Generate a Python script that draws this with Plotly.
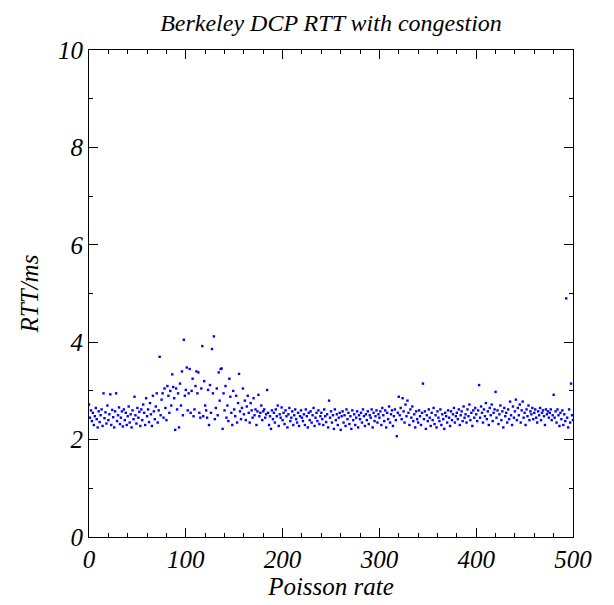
import plotly.graph_objects as go

# RTT samples (ms), one per Poisson rate step 0..500
RTT_MS = [
    2.72, 2.45, 2.60, 2.38, 2.55, 2.30, 2.48, 2.65, 2.42, 2.25, 2.58, 2.36, 2.50, 2.62, 2.28, 2.95, 2.44, 2.56, 2.33, 2.70,
    2.40, 2.52, 2.93, 2.30, 2.61, 2.46, 2.25, 2.58, 2.95, 2.38, 2.50, 2.66, 2.32, 2.45, 2.58, 2.27, 2.62, 2.40, 2.55, 2.30,
    2.48, 2.68, 2.35, 2.52, 2.25, 2.60, 2.42, 2.88, 2.50, 2.33, 2.65, 2.45, 2.57, 2.28, 2.62, 2.40, 2.72, 2.55, 2.30, 2.85,
    2.48, 2.62, 2.36, 2.75, 2.52, 2.28, 2.90, 2.58, 2.42, 2.68, 2.95, 2.35, 2.60, 3.70, 2.50, 2.82, 2.95, 2.45, 3.05, 2.65,
    2.40, 3.10, 2.90, 2.55, 3.00, 2.70, 3.34, 3.08, 2.85, 2.20, 3.05, 2.62, 2.95, 2.25, 3.15, 2.70, 3.40, 2.50, 4.05, 2.90,
    3.02, 3.48, 2.60, 2.95, 3.45, 2.55, 3.00, 3.25, 2.48, 2.62, 3.10, 3.40, 2.95, 3.38, 2.55, 2.45, 3.05, 3.92, 2.48, 3.20,
    2.70, 2.60, 2.45, 3.02, 2.30, 3.12, 2.55, 3.86, 2.95, 4.12, 2.42, 2.65, 3.05, 2.50, 3.38, 2.80, 3.45, 3.46, 2.22, 2.95,
    2.60, 3.10, 2.45, 2.70, 2.38, 3.25, 2.88, 2.55, 2.30, 3.00, 2.62, 2.48, 2.90, 2.35, 2.75, 3.35, 2.58, 2.42, 2.65, 3.05,
    2.52, 2.80, 2.40, 2.68, 2.90, 2.55, 2.35, 2.75, 2.60, 2.45, 2.85, 2.50, 2.62, 2.30, 2.58, 2.92, 2.48, 2.55, 2.70, 2.40,
    2.58, 2.62, 2.45, 2.52, 3.02, 2.55, 2.30, 2.48, 2.22, 2.60, 2.42, 2.55, 2.35, 2.62, 2.48, 2.70, 2.28, 2.52, 2.45, 2.66,
    2.40, 2.55, 2.32, 2.60, 2.48, 2.25, 2.52, 2.65, 2.38, 2.45, 2.58, 2.30, 2.50, 2.62, 2.42, 2.35, 2.55, 2.28, 2.48, 2.60,
    2.45, 2.38, 2.52, 2.30, 2.62, 2.48, 2.25, 2.55, 2.40, 2.58, 2.35, 2.50, 2.65, 2.28, 2.45, 2.55, 2.38, 2.60, 2.32, 2.48,
    2.55, 2.42, 2.30, 2.62, 2.48, 2.36, 2.52, 2.25, 2.80, 2.45, 2.58, 2.35, 2.50, 2.22, 2.62, 2.40, 2.52, 2.30, 2.45, 2.55,
    2.20, 2.48, 2.58, 2.35, 2.50, 2.28, 2.62, 2.42, 2.55, 2.32, 2.48, 2.22, 2.60, 2.40, 2.52, 2.30, 2.45, 2.58, 2.25, 2.50,
    2.42, 2.55, 2.35, 2.62, 2.48, 2.28, 2.52, 2.40, 2.58, 2.32, 2.50, 2.45, 2.62, 2.25, 2.55, 2.38, 2.48, 2.60, 2.35, 2.52,
    2.45, 2.58, 2.30, 2.65, 2.50, 2.38, 2.60, 2.25, 2.55, 2.42, 2.68, 2.35, 2.52, 2.60, 2.28, 2.48, 2.62, 2.40, 2.07, 2.55,
    2.88, 2.50, 2.65, 2.42, 2.85, 2.58, 2.35, 2.72, 2.48, 2.80, 2.55, 2.30, 2.62, 2.45, 2.68, 2.38, 2.52, 2.25, 2.58, 2.42,
    2.35, 2.60, 2.48, 2.30, 2.55, 3.15, 2.42, 2.58, 2.22, 2.50, 2.38, 2.62, 2.45, 2.28, 2.55, 2.40, 2.65, 2.32, 2.50, 2.25,
    2.58, 2.45, 2.38, 2.62, 2.30, 2.52, 2.42, 2.22, 2.55, 2.48, 2.35, 2.60, 2.45, 2.28, 2.58, 2.40, 2.52, 2.65, 2.35, 2.48,
    2.55, 2.42, 2.62, 2.30, 2.50, 2.58, 2.38, 2.68, 2.45, 2.52, 2.35, 2.62, 2.48, 2.72, 2.40, 2.55, 2.28, 2.60, 2.45, 2.65,
    2.52, 2.38, 2.60, 3.12, 2.45, 2.68, 2.55, 2.35, 2.62, 2.48, 2.75, 2.42, 2.58, 2.30, 2.65, 2.50, 2.72, 2.38, 2.55, 2.62,
    2.98, 2.45, 2.60, 2.32, 2.52, 2.70, 2.40, 2.58, 2.25, 2.65, 2.48, 2.55, 2.35, 2.62, 2.42, 2.78, 2.50, 2.30, 2.68, 2.45,
    2.58, 2.82, 2.40, 2.65, 2.50, 2.72, 2.35, 2.60, 2.78, 2.45, 2.55, 2.30, 2.62, 2.48, 2.70, 2.40, 2.58, 2.52, 2.65, 2.42,
    2.55, 2.62, 2.45, 2.35, 2.58, 2.50, 2.65, 2.40, 2.55, 2.60, 2.48, 2.30, 2.62, 2.52, 2.58, 2.45, 2.55, 2.62, 2.40, 2.50,
    2.92, 2.45, 2.58, 2.35, 2.62, 2.50, 2.28, 2.55, 2.42, 2.60, 2.30, 2.52, 2.38, 4.90, 2.45, 2.25, 2.62, 2.35, 3.15, 2.50,
    2.40,
]
POISSON_RATE = list(range(len(RTT_MS)))

X_TICKS = [0, 100, 200, 300, 400, 500]
Y_TICKS = [0, 2, 4, 6, 8, 10]

FONTE = "Liberation Serif, Times New Roman, serif"
COR_EIXO = "black"

# a pagina desloca a figura 8 px (margem do body), por isso 606x597
LARGURA = 606
ALTURA = 597

fig = go.Figure()
fig.add_trace(
    go.Scatter(
        x=POISSON_RATE,
        y=RTT_MS,
        mode="markers",
        marker=dict(color="#0000ff", size=2.4, symbol="square", line=dict(width=0)),
        showlegend=False,
    )
)

fig.update_layout(
    width=LARGURA,
    height=ALTURA,
    paper_bgcolor="white",
    plot_bgcolor="white",
    margin=dict(l=81, r=41, t=42, b=68),
    title=dict(
        text="Berkeley DCP RTT with congestion",
        x=323 / LARGURA,
        xanchor="center",
        y=1 - 15 / ALTURA,
        yanchor="middle",
        font=dict(family=FONTE, size=24, color=COR_EIXO, style="italic"),
    ),
    font=dict(family=FONTE, color=COR_EIXO),
)

eixo_comum = dict(
    showline=True,
    linecolor=COR_EIXO,
    linewidth=1,
    mirror="allticks",
    ticks="inside",
    ticklen=9,
    tickcolor=COR_EIXO,
    showgrid=False,
    zeroline=False,
    tickfont=dict(family=FONTE, size=25, color=COR_EIXO, style="italic"),
)

fig.update_xaxes(
    range=[0, 500],
    tickvals=X_TICKS,
    minor=dict(ticks="inside", dtick=20, ticklen=4, tickcolor=COR_EIXO, showgrid=False),
    title=dict(text="Poisson rate", font=dict(family=FONTE, size=25, color=COR_EIXO, style="italic"), standoff=2),
    **eixo_comum,
)
fig.update_yaxes(
    range=[0, 10],
    tickvals=Y_TICKS,
    minor=dict(ticks="inside", dtick=1, ticklen=4, tickcolor=COR_EIXO, showgrid=False),
    title=dict(text="RTT/ms", font=dict(family=FONTE, size=25, color=COR_EIXO, style="italic"), standoff=12),
    **eixo_comum,
)

fig.write_html("out.html")
